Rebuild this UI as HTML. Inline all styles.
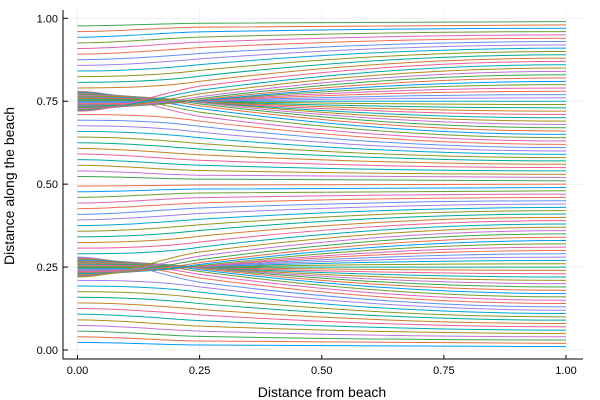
<!DOCTYPE html>
<html><head><meta charset="utf-8"><style>
body{margin:0;background:#fff}
svg{display:block;font-family:"Liberation Sans",sans-serif}
</style></head><body>
<svg id="chart" width="600" height="400" viewBox="0 0 600 400" xmlns="http://www.w3.org/2000/svg">
<rect width="600" height="400" fill="#fff"/>
<g id="grid"></g>
<g id="lines"></g>
<g id="axes"></g>
<text x="322" y="397" text-anchor="middle" font-size="14" fill="#000">Distance from beach</text>
<text transform="translate(14,186) rotate(-90)" text-anchor="middle" font-size="14" fill="#000">Distance along the beach</text>
</svg>
<script>
const xTicks=[0,0.25,0.5,0.75,1];
const xTickLabels=["0.00","0.25","0.50","0.75","1.00"];
const yTicks=[0,0.25,0.5,0.75,1];
const yTickLabels=["0.00","0.25","0.50","0.75","1.00"];
const endY=[0.01,0.02,0.03,0.04,0.05,0.06,0.07,0.08,0.09,0.10,0.11,0.12,0.13,0.14,0.15,0.16,0.17,0.18,0.19,0.20,0.21,0.22,0.23,0.24,0.25,0.26,0.27,0.28,0.29,0.30,0.31,0.32,0.33,0.34,0.35,0.36,0.37,0.38,0.39,0.40,0.41,0.42,0.43,0.44,0.45,0.46,0.47,0.48,0.49,0.50,
0.51,0.52,0.53,0.54,0.55,0.56,0.57,0.58,0.59,0.60,0.61,0.62,0.63,0.64,0.65,0.66,0.67,0.68,0.69,0.70,0.71,0.72,0.73,0.74,0.75,0.76,0.77,0.78,0.79,0.80,0.81,0.82,0.83,0.84,0.85,0.86,0.87,0.88,0.89,0.90,0.91,0.92,0.93,0.94,0.95,0.96,0.97,0.98,0.99];
const startY=[0.023,0.040,0.057,0.074,0.091,0.108,0.125,0.142,0.159,0.176,0.193,0.210,0.280,0.2775,0.275,0.2725,0.270,0.2675,0.265,0.2625,0.260,0.2575,0.255,0.2525,0.250,0.2475,0.245,0.2425,0.240,0.2375,0.235,0.2325,0.230,0.2275,0.225,0.2225,0.220,0.290,0.307,0.324,0.341,0.358,0.375,0.392,0.409,0.426,0.443,0.460,0.477,0.494,
0.523,0.540,0.557,0.574,0.591,0.608,0.625,0.642,0.659,0.676,0.693,0.710,0.780,0.7775,0.775,0.7725,0.770,0.7675,0.765,0.7625,0.760,0.7575,0.755,0.7525,0.750,0.7475,0.745,0.7425,0.740,0.7375,0.735,0.7325,0.730,0.7275,0.725,0.7225,0.720,0.790,0.807,0.824,0.841,0.858,0.875,0.892,0.909,0.926,0.943,0.960,0.977];
const midY=[0.015,0.027,0.041,0.057,0.072,0.0885,0.106,0.1225,0.140,0.157,0.1744,0.1902,0.2044,0.217,0.228,0.2365,0.242,0.2458,0.2482,0.2485,0.2488,0.2491,0.2494,0.2497,0.250,0.2503,0.2506,0.2509,0.2512,0.2515,0.2518,0.2542,0.258,0.2635,0.272,0.283,0.2956,0.3098,0.3256,0.343,0.3604,0.3775,0.394,0.4115,0.428,0.4432,0.459,0.4733,0.4852,0.4975,
0.515,0.527,0.541,0.557,0.572,0.5885,0.606,0.6225,0.640,0.657,0.6744,0.6902,0.7044,0.717,0.728,0.7365,0.742,0.7458,0.7482,0.7485,0.7488,0.7491,0.7494,0.7497,0.750,0.7503,0.7506,0.7509,0.7512,0.7515,0.7518,0.7542,0.758,0.7635,0.772,0.783,0.7956,0.8098,0.8256,0.843,0.8604,0.8775,0.894,0.9115,0.928,0.9432,0.959,0.9733,0.9852];
const palette=["#009af9","#e26f46","#3da44d","#c271d2","#ac8d18","#00a9ad","#ed5e93","#c68125","#00a98d","#8e971d","#00a8cb","#9b7fe9","#618df6","#f06c55","#dd64b5","#6b9e32"];
const NS="http://www.w3.org/2000/svg";
const X0=77.5,X1=566,Y0=350,Y1=18.3;
const sx=v=>X0+(X1-X0)*v, sy=v=>Y0-(Y0-Y1)*v;
function mk(tag,attrs,parent){const e=document.createElementNS(NS,tag);for(const k in attrs)e.setAttribute(k,attrs[k]);parent.appendChild(e);return e;}
const grid=document.getElementById('grid'),axes=document.getElementById('axes'),lines=document.getElementById('lines');
xTicks.forEach((t,i)=>{
  const g=mk('line',{x1:sx(t),x2:sx(t),y1:10,y2:359,stroke:'#e6e6e6','stroke-width':0.6},grid);
  
  
  const tk=mk('line',{x1:sx(t),x2:sx(t),y1:359,y2:355,stroke:'#000','stroke-width':1},axes);
  
  
  const lb=mk('text',{x:sx(t),y:374,'text-anchor':'middle','font-size':11,fill:'#000'},axes);
  lb.textContent=xTickLabels[i];
  
  
});
yTicks.forEach((t,i)=>{
  const g=mk('line',{x1:63,x2:583,y1:sy(t),y2:sy(t),stroke:'#e6e6e6','stroke-width':0.6},grid);
  
  
  const tk=mk('line',{x1:63,x2:68,y1:sy(t),y2:sy(t),stroke:'#000','stroke-width':1},axes);
  
  
  const lb=mk('text',{x:58,y:sy(t)+4,'text-anchor':'end','font-size':11,fill:'#000'},axes);
  lb.textContent=yTickLabels[i];
  
  
});
const ax1=mk('line',{x1:63,x2:63,y1:10,y2:359.5,stroke:'#000','stroke-width':1},axes);


const ax2=mk('line',{x1:62.5,x2:583,y1:359,y2:359,stroke:'#000','stroke-width':1},axes);


endY.forEach((e,i)=>{
  const y0=startY[i],ym=midY[i];
  const k=(e-ym);
  const d=`M${sx(0)},${sy(y0)} C${sx(0.08)},${sy(y0)} ${sx(0.17)},${sy(ym-0.25*k)} ${sx(0.25)},${sy(ym)} C${sx(0.45)},${sy(ym+0.5*k)} ${sx(0.7)},${sy(e)} ${sx(1)},${sy(e)}`;
  const p=mk('path',{d:d,fill:'none',stroke:palette[i%palette.length],'stroke-width':1},lines);
  
  
});
</script>
</body></html>
